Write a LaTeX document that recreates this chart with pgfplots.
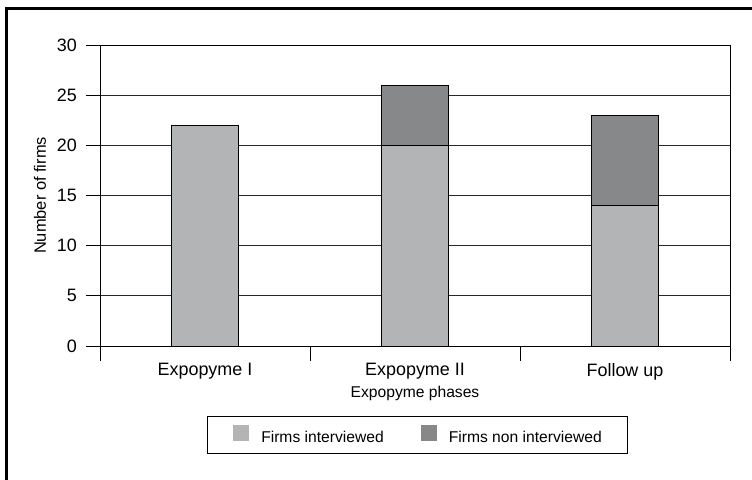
\documentclass[border=0pt]{standalone}
\usepackage{pgfplots}
\pgfplotsset{compat=1.18}
\usepackage{fontspec}
\setmainfont{Liberation Sans}
\definecolor{lightbar}{RGB}{179,180,181}
\definecolor{darkbar}{RGB}{135,136,137}
\definecolor{gridc}{RGB}{40,40,40}
\begin{document}
\begin{tikzpicture}[x=1bp,y=1bp]
\useasboundingbox (0,0) rectangle (752,480);
\draw[line width=3bp] (6,0) -- (6,471) -- (753,471);
\begin{axis}[
  at={(100bp,134bp)}, anchor=south west,
  scale only axis, width=630bp, height=301bp,
  ybar stacked, bar width=67bp,
  xmin=-0.5, xmax=2.5, ymin=0, ymax=30,
  xtick={0,1,2}, xticklabels={Expopyme I, Expopyme II, Follow up},
  minor xtick={-0.5,0.5,1.5,2.5},
  major x tick style={draw=none},
  ytick={0,5,...,30},
  tick pos=left,
  tick align=outside, major tick length=14bp, minor tick length=15bp,
  every tick/.style={black, line width=0.8bp},
  ymajorgrids, grid style={gridc, line width=0.8bp},
  axis line style={black, line width=0.8bp},
  /pgf/number format/assume math mode=true,
  tick label style={font=\fontsize{18}{20}\selectfont},
  yticklabel style={inner sep=0pt, xshift=-9bp},
  xticklabel style={inner sep=0pt, yshift=-3bp},
  xlabel={\fontsize{15.7}{18}\selectfont Expopyme phases},
  ylabel={\fontsize{16.5}{18}\selectfont Number of firms},
  xlabel style={inner sep=0pt, at={(axis description cs:0.5,-0.17)}, anchor=base},
  ylabel style={inner sep=0pt, at={(axis description cs:-0.0952,0.5)}, anchor=center, rotate=0},
  legend columns=2,
  legend image code/.code={\fill[#1, draw=none] (0bp,-3bp) rectangle (16bp,13bp);},
  legend style={at={(0.504,-0.2957)}, anchor=center, draw=black, line width=1bp,
    font=\fontsize{15.7}{18}\selectfont,
    inner xsep=26bp, inner ysep=8.5bp,
    nodes={inner sep=0pt, text height=11bp, text depth=3bp},
    /tikz/every odd column/.append style={column sep=12bp},
    /tikz/every even column/.append style={column sep=37bp}},
  legend cell align=left,
]
\addplot+[fill=lightbar, draw=black, line width=0.8bp] coordinates {(0,22) (1,20) (2,14)};
\addplot+[fill=darkbar, draw=black, line width=0.8bp] coordinates {(0,0) (1,6) (2,9)};
\legend{Firms interviewed, Firms non interviewed}
\end{axis}
\end{tikzpicture}
\end{document}
